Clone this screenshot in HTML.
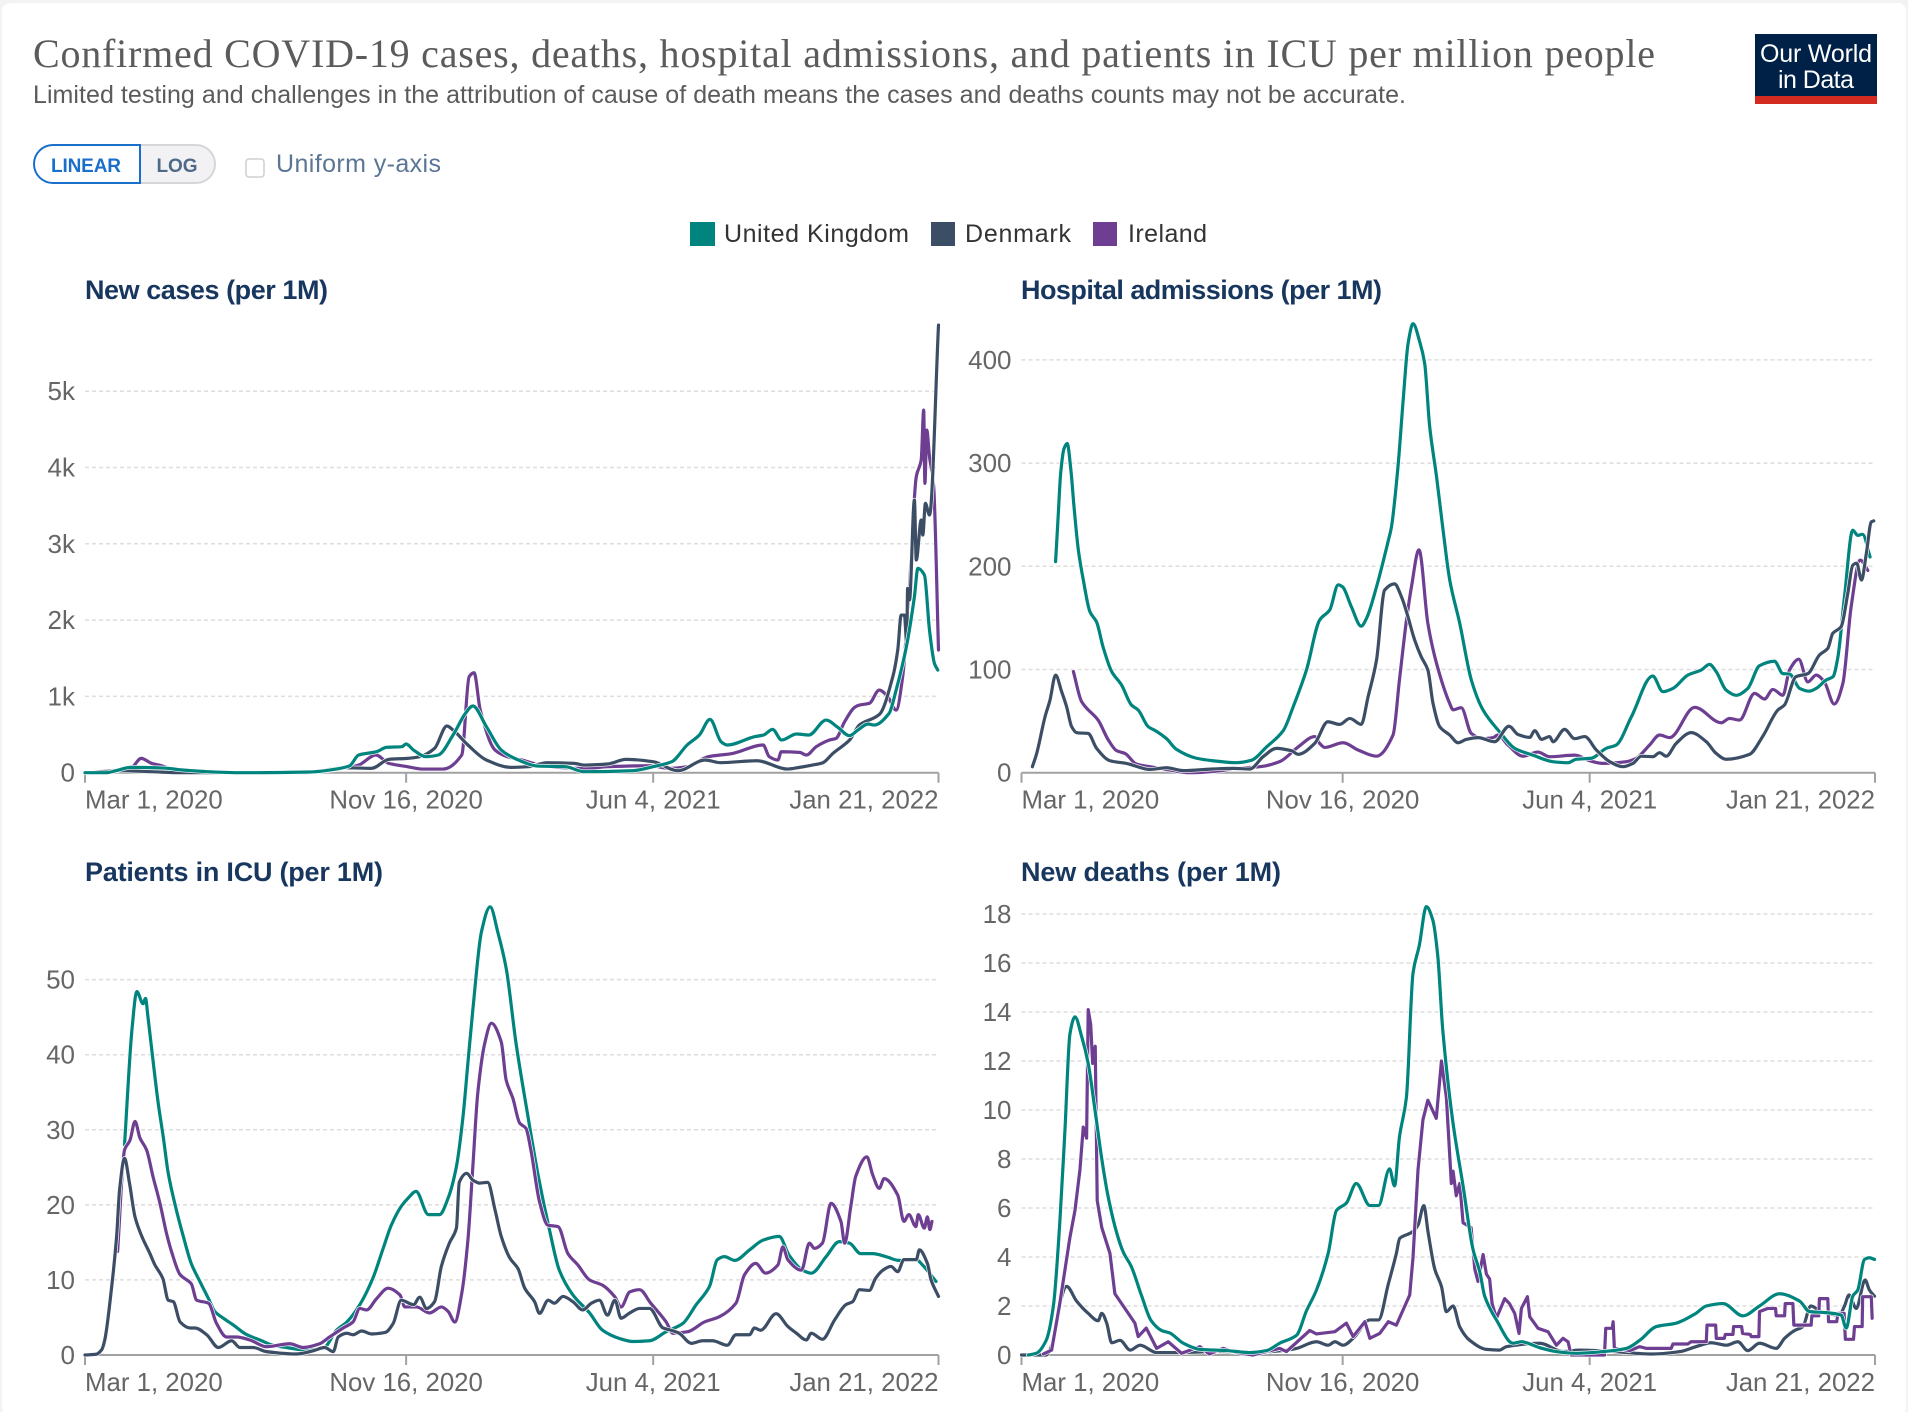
<!DOCTYPE html>
<html lang="en">
<head>
<meta charset="utf-8">
<title>Confirmed COVID-19 cases, deaths, hospital admissions, and patients in ICU per million people</title>
<style>
html,body{margin:0;padding:0;background:#f3f3f3;}
#page{display:block;width:1908px;height:1412px;}
text{font-family:"Liberation Sans",sans-serif;}
</style>
</head>
<body>
<svg id="page" xmlns="http://www.w3.org/2000/svg" width="1908" height="1412" viewBox="0 0 1908 1412">
  <rect x="2" y="3" width="1904" height="1412" rx="8" fill="#ffffff"/>
  <text x="33" y="67" font-size="40" textLength="1622" style="font-family:'Liberation Serif',serif" fill="#5b5b5b">Confirmed COVID-19 cases, deaths, hospital admissions, and patients in ICU per million people</text>
  <text x="33" y="103" font-size="25" textLength="1373" fill="#5b5b5b">Limited testing and challenges in the attribution of cause of death means the cases and deaths counts may not be accurate.</text>

  <g>
    <rect x="1755" y="34" width="122" height="62" fill="#002147"/>
    <rect x="1755" y="96" width="122" height="8" fill="#d42b21"/>
    <text x="1816" y="62" font-size="25" fill="#ffffff" text-anchor="middle" textLength="112">Our World</text>
    <text x="1816" y="88" font-size="25" fill="#ffffff" text-anchor="middle" textLength="76">in Data</text>
  </g>

  <g>
    <path d="M139 145 H196 a19 19 0 0 1 0 38 H139 Z" fill="#f2f2f4" stroke="#d6d6da" stroke-width="2"/>
    <path d="M140 145 H53 a19 19 0 0 0 0 38 H140 Z" fill="#ffffff" stroke="#1a6fcc" stroke-width="2"/>
    <text x="86" y="172" font-size="19" font-weight="bold" fill="#1a6fcc" text-anchor="middle" textLength="70">LINEAR</text>
    <text x="177" y="172" font-size="19" font-weight="bold" fill="#4f6a88" text-anchor="middle" textLength="41">LOG</text>
  </g>
  <rect x="246" y="159" width="18" height="18" rx="3" fill="#ffffff" stroke="#cfcfcf" stroke-width="1.5"/>
  <text x="276" y="172" font-size="25" fill="#5b7595" textLength="165">Uniform y-axis</text>

  <g>
    <rect x="690" y="222" width="25" height="24" fill="#00847e"/>
    <text x="724" y="242" font-size="25" fill="#333333" textLength="185">United Kingdom</text>
    <rect x="931" y="222" width="24" height="24" fill="#3c4e66"/>
    <text x="965" y="242" font-size="25" fill="#333333" textLength="106">Denmark</text>
    <rect x="1093" y="222" width="24" height="24" fill="#6d3e91"/>
    <text x="1128" y="242" font-size="25" fill="#333333" textLength="79">Ireland</text>
  </g>

  <g id="panel-cases">
    <text x="85" y="299" font-size="27" font-weight="bold" fill="#18375f" textLength="243">New cases (per 1M)</text>
  </g>
  <g id="panel-hosp">
    <text x="1021" y="299" font-size="27" font-weight="bold" fill="#18375f" textLength="361">Hospital admissions (per 1M)</text>
  </g>
  <g id="panel-icu">
    <text x="85" y="881" font-size="27" font-weight="bold" fill="#18375f" textLength="298">Patients in ICU (per 1M)</text>
  </g>
  <g id="panel-deaths">
    <text x="1021" y="881" font-size="27" font-weight="bold" fill="#18375f" textLength="260">New deaths (per 1M)</text>
  </g>
</svg>
<script>
// Shared x axis
const xTickDays = [0, 260, 460, 691];
const xTickLabels = ["Mar 1, 2020", "Nov 16, 2020", "Jun 4, 2021", "Jan 21, 2022"];

// New cases (per 1M)
const casesTicks = [0, 1000, 2000, 3000, 4000, 5000];
const casesTickLabels = ["0", "1k", "2k", "3k", "4k", "5k"];
const casesUkDays = [0,17,25,37,64,79,104,128,182,202,214,221.6,236,244,256.6,260,266,276,286,298,308,314,325,337,349.6,367,389,404,443,460,475,487.5,497.4,506,515,520,542,549.5,556.6,564,576,586,600,609.5,619,625.7,634,639,651,656.7,665,671.5,674.3,679.6,683.7,687.7,690.4];
const casesUkValues = [0,0,26,70,61,35,9,0,9,44,87,232,275,332,341,376,297,210,232,494,778,874,603,297,175,87,79,13,26,79,144,363,494,699,406,363,472,494,568,428,507,494,690,594,485,559,638,625,778,1083,1651,2307,2678,2590,1870,1433,1345];
const casesDkDays = [0,30,54,79,177,212,232,246,261,271,283,293,298,310,325,345,359,374,396,404,423,438,460,480,502,514.6,544,568.6,578.5,589,597.4,605.5,619,627,643.2,654,658,660.8,663.4,665.3,666,667.5,671.5,673,677,678.3,680.4,683.7,691];
const casesDkValues = [0,26,13,0,0,65,57,175,188,210,319,612,559,363,166,70,79,131,122,100,114,175,144,26,166,131,157,48,70,100,131,253,428,625,765,1258,1608,2066,2066,1695,2416,2263,3574,2787,3312,3115,3530,3377,5867];
const casesIeDays = [0,37,45.5,54,60,69,79,128,182,214,221.6,235.5,246,261,273,290,305,311,315,320,332,342,354,374,406,423,458,473,487.5,504.6,524.4,549,554,561,563.7,578.5,584,592,602.8,608,615,623,627,635,643,650,656.7,662,667.5,673,677,679,680,681.5,683.7,687,691];
const casesIeValues = [0,57,188,122,100,57,26,0,9,70,100,232,122,79,48,48,232,1258,1310,821,297,210,166,79,57,79,92,57,79,210,253,363,210,166,275,266,232,341,428,450,668,856,887,909,1083,996,821,1258,2438,3879,4098,4753,3792,4491,4142,3770,1608];

// Hospital admissions (per 1M)
const hospTicks = [0, 100, 200, 300, 400];
const hospTickLabels = ["0", "100", "200", "300", "400"];
const hospUkDays = [27.6,29.8,31.7,34.4,37,40,42.5,46,50,55.4,60.8,66,73,81,89,94.5,102.6,108,117.4,125.5,141.7,155,174,186,198.4,212,220,230.7,241.4,249.5,256.4,260,267,275,279.3,287.4,297,299.5,304.8,309,313,317,322.4,326.4,330.5,336,341,346.7,354.8,364.2,373.7,387,399.3,414,430,442.4,449,461.3,473.4,481.5,493.7,511,519.3,527.4,539.5,550.3,557,562.4,570.5,578.6,588,597.5,609.6,616.4,621.8,630,638,643.4,651.5,657,661,666.3,673,677,681,687];
const hospUkValues = [204.5,251,290,314,319,293,258,216,187,156,146,122,98,85,65.6,60.7,44.6,41,33,22.6,14,11.6,9.7,12,25,41,64,99.5,148,157.6,182,180,161,142,149.5,180,225,238,296.5,361,416,435,417.6,396.6,335,287,238,186.7,144.7,89.8,60.7,39.7,23.6,17,10.7,9.7,13,14,23.6,26.8,54,93.7,78.5,81.7,94.6,99.5,105,98,80,75,81.7,103.7,108,96,95.6,81.7,79,81.7,89.8,93,112.4,170.5,235,230,231,209];
const hospDkDays = [8.8,12.3,19,23,27.6,32.5,36.5,40.6,44.6,54,60.8,71.6,85,104,117.4,131,155,171.3,185,195.6,206.4,218.6,224,237.4,248,257.6,265.8,275,280.6,287.4,294,302,307.6,311.7,318.3,323.6,329,333.2,338.6,346.7,353.4,360.2,369.6,383,394.7,402,411.4,415.5,421,427.6,430.3,439.7,447.8,456,465.4,476.2,487,495,501.8,511.2,516.6,522,530,542.2,554.4,562.4,570.5,589.4,600,612.3,617.7,627,636.6,646,652.8,656.8,663.6,669,673,676.2,680,684,688,690];
const hospDkValues = [5.8,18.7,54,70,94.6,78.5,64,44.6,38.8,38,23.6,11.6,9,3.2,4.8,2,3.6,4.2,3.6,15.5,23.6,21.3,17.8,28.4,49.4,46.8,52.6,46.8,73.6,109,177,183,170.5,156,128.6,112.4,99.5,67,44.6,36.5,29,32.3,34,30,45,37,34.2,40.7,32.3,35,30,42,33,35,22,10.7,5.8,9,16,15.5,19.4,16,28.4,38.8,30,18.7,13,17.8,35,60.7,65.6,93,96,114,120.5,135,141.5,174,201,203,186.7,212.5,243,244];
const hospIeDays = [42,48.7,62,70.3,77,83.8,93,104,120,136,160.6,174,193,209,224,237.4,241.4,245.4,260.4,272.5,287.4,300.8,306,311.7,315.7,321.8,329,336,346.7,349.4,356,364.2,373.7,381.8,385.8,393.9,406,418,427.6,448,460,470.7,489.6,497.7,508.5,516.6,524.7,545,566.5,573.2,581.3,593.5,601.6,608.3,616.4,621.8,629.3,636.6,643.4,650,658,665,671.7,679,685.2];
const hospIeValues = [98,68.8,51,31.7,21.3,18.7,8.4,5.8,2.6,0,1.9,4.2,5.8,10.7,25,35,28.4,24.5,29,22,16,36.5,90,148,180,216,144.7,106,67,61,63,38,33,34,36.5,26.8,16,20,15.5,17,11.6,9,10.7,14,26.8,36.5,34,63.3,48.4,52.6,51,76.9,71.4,80.7,75,99.5,110,88,94.6,88,66.5,86.6,160.9,206,196];

// Patients in ICU (per 1M)
const icuTicks = [0, 10, 20, 30, 40, 50];
const icuTickLabels = ["0", "10", "20", "30", "40", "50"];
const icuUkDays = [32,38,42,47,49,51,55.3,59.3,63.4,67.4,74,79.6,86,93,100,105,112,120,131,141.6,152,163,179,193,203.6,212,222.5,233,241.4,248,256,261.6,268,278,287,294,300.7,306,310,314,321,328,334.4,341,349,358.7,367,376,384,395,408.5,419,432.7,443.5,457,470.5,484,494.8,505.5,512,517.7,526,538,549,562,570,581,588,600,610.7,619,628,637.7,648.5,659,673,678,689];
const icuUkValues = [28,43.3,48.4,46.8,47.5,45,38.9,33.5,29,24.2,19.3,15.8,12.2,9.8,7.5,5.8,4.9,4,2.7,2,1.3,1,0.67,0.9,3.3,4.4,6.7,10.2,14.2,17.3,19.8,20.9,21.8,18.7,18.7,20.9,25.1,31.7,38.9,46,56.4,59.7,56.2,51.5,41.5,31.7,23.8,16.7,11.3,8,5.6,3.3,2.2,1.8,1.9,3.1,4.2,6.7,9.1,12.7,13.1,12.6,14,15.3,15.8,13.3,11.3,10.9,13.1,15.1,14.9,13.5,13.5,13.1,12.6,12.7,12,9.8];
const icuDkDays = [0,9,13.5,16,21.6,25.6,28,32,36,40.5,46,52.6,56.6,63,67.4,71.5,77,85,89,98.5,108,118.7,125.4,136,147,171,185,194,201,205,212,217,224,232,243,249.5,256,266,271,276.5,283,288.5,295,300.7,303,309,314,319.6,326,332,337,344,350.6,356,364,368,375,380,387,395,403,410,416.5,423,429,434,441,449,457,468,474.5,481,491,500,508,520,527,538,542,547,559.5,569,576,584,588,597,607,616,621.5,627,635,640,646,652.5,658,663,673,675.5,682,685,691];
const icuDkValues = [0,0.1,0.7,2,9.1,15.8,22,26.2,22.9,18.4,15.8,13.5,12,10.2,7.3,7.1,4.4,3.6,3.6,2.7,1,1.9,1,1,0.45,0.13,0.58,1,0.45,2.4,2.9,2.7,3.2,2.8,3,4.2,7.3,6.7,7.7,6.2,7.1,11.8,14.9,16.9,23,24.2,23.3,22.9,23,19.3,15.8,12.9,11.5,8.9,7.1,5.55,7.3,6.9,7.8,7.1,6,6.9,7.3,5.3,7.3,4.9,5.6,6.2,6.2,3.6,3.3,2.9,1.55,1.9,1.9,1.3,2.7,2.7,3.6,3.3,5.5,3.8,2.9,2,2.9,2.1,4.7,6.7,7.1,8.7,8.6,10.2,11.3,11.8,11.1,12.7,12.7,14,12.2,10,7.8];
const icuIeDays = [26.4,32,36.4,40.5,44.5,49.9,55,60.7,66,70,77,86,90.4,100,106.5,114.6,122.7,133.5,147,165.8,176.6,190,198,209,217,222.5,228,236,245.4,255,259,268.3,279,288.6,294,299.4,305,310,314,318,323.6,329,337,341,346.4,351.9,357,361,368,374.7,383,391,399,408.5,419,428.7,434,441,449,458,470.5,476,488,501.5,513.6,527,534,543,551,561,565,569,580,586.5,590.5,597,604,612,615,620,624,633,637.7,643,647,658,663,667,672.7,674.6,679.5,682,684,685.7];
const icuIeValues = [13.8,27.3,28.6,31.1,28.9,27.3,23.8,20.2,16.2,13.8,10.7,9.5,7.3,6.9,4.2,2.4,2.4,2,1.1,1.5,1,1.5,2.4,3.6,4.4,6.2,6,7.5,8.9,8,6.4,6.4,5.6,6.4,5.8,4.4,8.2,15.3,25.1,34.9,41.5,44.2,41.7,36.6,34.2,30.9,30.2,27.3,20.4,17.3,17.1,13.5,12,10,9.3,7.8,6.4,8.4,8.7,6.9,4.4,2.9,3.1,4.4,5.1,6.9,10.7,12.2,10.9,12,14.4,12.7,11.3,14.9,14.2,14.9,20.2,17.8,14.9,19.8,23.8,26.4,24,22.2,23.5,21.3,17.8,18.7,17.1,18.7,16.9,18.4,16.7,17.8];

// New deaths (per 1M)
const deathsTicks = [0, 2, 4, 6, 8, 10, 12, 14, 16, 18];
const deathsTickLabels = ["0", "2", "4", "6", "8", "10", "12", "14", "16", "18"];
const deathsUkDays = [5.5,12,20,25.8,31,35.2,39.2,43.3,48.7,54,59.5,65,70,77,82.4,89,97,105,113.4,120,131,144.4,166,185,198.4,209,222.6,230.7,238.8,248.3,255,263,271,282,289,298,302,306,311.6,317,322,327.8,333,337,341,349,357.5,365.6,371,375,384.5,398,404.7,419.5,433,449,471,489.7,500.5,514,530,546,554.4,568,584,597.5,613.7,630,638,651.5,663.6,667.7,673,677,682.5,686.5,690.6];
const deathsUkValues = [0,0.07,0.6,2,5.4,9.2,13.1,13.8,13,11.9,10,8,6.5,5,4.2,3.6,2.45,1.4,1,0.9,0.48,0.23,0.18,0.1,0.18,0.48,0.8,1.8,2.65,4.15,5.9,6.2,7,6.1,6.1,7.6,6.9,8.9,10.5,15.6,16.7,18.3,17.75,16.3,13.3,9.6,6.9,4.3,3.4,2.4,1.43,0.48,0.54,0.3,0.14,0.07,0.14,0.27,0.6,1.16,1.3,1.7,2,2.1,1.6,2,2.5,2.2,1.77,1.73,1.63,1.1,2.4,2.65,3.9,3.97,3.9];
const deathsDkDays = [0,20,25.8,31,36.5,44.6,54,62,65,69,73,79.7,88,96,109.4,125.5,160.6,187.5,214.5,222.6,238.8,248.3,253.7,260.4,268.5,282,289,297,303.5,306.2,315.7,321,325.7,329.2,334.6,340,344,349.4,354.8,362.9,376.4,387,392.6,419.5,438.4,452,479,511,533,546,558.4,570.6,580,588,597.5,611,617.8,625.9,632.6,639,648.8,662,666.3,670,675.8,683,686.5,690.6];
const deathsDkValues = [0,0,0.6,2.1,2.8,2.2,1.7,1.4,1.7,1.3,0.5,0.6,0.2,0.4,0.1,0.1,0.14,0.1,0.2,0.27,0.54,0.4,0.54,0.4,0.68,1.43,1.43,2.9,4.15,4.76,5,5.3,6.1,5,3.5,2.8,1.77,2,1.15,0.6,0.23,0.2,0.34,0.48,0.14,0.2,0.14,0.04,0.14,0.34,0.5,0.4,0.54,0.18,0.48,0.27,0.68,1,1.16,2,1.73,1.63,2,2.45,1.9,3.06,2.65,2.4];
const deathsIeDays = [17.7,24.4,31,39.2,43.3,47.3,50,52.7,54,56,57.6,59.7,61.3,65,71.6,75.6,82.4,91.8,94.5,101,109.4,118.8,129.6,144.4,152,163.3,174,187.5,209,214.5,233.4,238.8,253.7,263,268.5,278,282,290,297,303.5,314.3,317,321,325,329,335.8,340,344,348,349.4,352,354.8,357.5,364,367,369.6,373.7,376.4,379,381,384.5,391.2,395,399.3,402.8,404.7,409.6,411.5,418.2,426.3,433,438.4,442.5,445,472,473,478.3,479,480,492.4,500.5,505.8,526,527.4,539.5,542,554.4,555,562,562.5,569,569.8,576,576.5,583,583.8,590,590.8,597,597.5,604,610.5,611,617.8,618.3,624.5,625.3,639.3,639.9,645.5,646,652.8,653.4,660,661,666,667,673.6,674.4,680.6,681,688,688.7];
const deathsIeValues = [0.04,0.2,2.1,4.8,5.9,7.55,9.3,8.85,14.1,13.5,11.9,12.6,6.3,5.2,4.15,2.5,2,1.3,0.75,1.1,0.27,0.54,0.07,0.34,0.04,0.27,0.1,0,0.27,0.14,1,0.86,0.95,1.3,0.75,1.36,0.68,0.88,1.36,1.22,2.45,4,7.55,9.6,10.4,9.66,12,10.5,7,7.5,6.5,7,5.4,5.2,3.5,3,4.1,3.3,3.1,2.1,1.5,2.3,2.1,1.7,0.88,1.9,2.38,1.56,1.09,0.95,0.4,0.68,0.54,0,0,1.09,1.09,1.36,0.27,0.18,0.34,0.27,0.27,0.45,0.45,0.54,0.54,1.22,1.22,0.68,0.68,0.84,0.84,1.16,1.16,0.88,0.84,0.75,0.75,1.77,1.9,1.9,1.6,1.6,2.1,2.1,1.22,1.22,1.6,1.6,2.3,2.3,1.36,1.36,1.7,1.7,0.64,0.64,1.16,1.16,2.38,2.38,1.5];

const SVG_NS = "http://www.w3.org/2000/svg";
const COLORS = { uk: "#00847e", dk: "#3c4e66", ie: "#6d3e91" };
const LAST_DAY = 691;

function make(tag, attrs, parent) {
  const el = document.createElementNS(SVG_NS, tag);
  for (const k in attrs) el.setAttribute(k, attrs[k]);
  parent.appendChild(el);
  return el;
}

// Monotone cubic through the given pixel points: rounds corners without overshooting peaks.
function monotonePath(xs, ys) {
  const n = xs.length;
  const slopes = [];
  for (let i = 0; i < n - 1; i++) slopes.push((ys[i + 1] - ys[i]) / Math.max(xs[i + 1] - xs[i], 1e-6));
  const tangents = [slopes[0]];
  for (let i = 1; i < n - 1; i++) {
    tangents.push(slopes[i - 1] * slopes[i] <= 0 ? 0 : 2 * slopes[i - 1] * slopes[i] / (slopes[i - 1] + slopes[i]));
  }
  tangents.push(slopes[n - 2]);
  let d = "M" + xs[0].toFixed(2) + " " + ys[0].toFixed(2);
  for (let i = 0; i < n - 1; i++) {
    const h = (xs[i + 1] - xs[i]) / 3;
    d += "C" + (xs[i] + h).toFixed(2) + " " + (ys[i] + tangents[i] * h).toFixed(2) + " "
       + (xs[i + 1] - h).toFixed(2) + " " + (ys[i + 1] - tangents[i + 1] * h).toFixed(2) + " "
       + xs[i + 1].toFixed(2) + " " + ys[i + 1].toFixed(2);
  }
  return d;
}

function linearPath(xs, ys) {
  return xs.map((x, i) => (i ? "L" : "M") + x.toFixed(2) + " " + ys[i].toFixed(2)).join("");
}

function drawPanel(opts) {
  const g = document.getElementById(opts.id);
  const xScale = d => opts.x0 + (d / LAST_DAY) * (opts.x1 - opts.x0);
  const yScale = v => opts.base - v * opts.pxPerUnit;

  opts.ticks.forEach((t, i) => {
    if (t !== 0) {
      const grid = make("line", { x1: opts.x0, x2: opts.x1, y1: yScale(t), y2: yScale(t), stroke: "#dddddd", "stroke-width": 1.5, "stroke-dasharray": "4 3" }, g);
      
      
    }
    const label = make("text", { x: opts.x0 - 10, y: yScale(t) + 9, "font-size": 26, fill: "#666666", "text-anchor": "end" }, g);
    
    
    label.textContent = opts.tickLabels[i];
  });

  const axis = make("line", { x1: opts.x0, x2: opts.x1, y1: opts.base, y2: opts.base, stroke: "#a1a1a1", "stroke-width": 2 }, g);
  
  

  xTickDays.forEach((d, i) => {
    const px = xScale(d);
    const tick = make("line", { x1: px, x2: px, y1: opts.base, y2: opts.base + 10, stroke: "#a1a1a1", "stroke-width": 2 }, g);
    
    
    const anchor = i === 0 ? "start" : (i === xTickDays.length - 1 ? "end" : "middle");
    const label = make("text", { x: px, y: opts.base + 36, "font-size": 25.8, fill: "#666666", "text-anchor": anchor }, g);
    
    
    label.textContent = xTickLabels[i];
  });

  opts.series.forEach(s => {
    const n = Math.min(s.days.length, s.values.length);
    const xs = s.days.slice(0, n).map(xScale);
    const ys = s.values.slice(0, n).map(yScale);
    const d = s.stepped ? linearPath(xs, ys) : monotonePath(xs, ys);
    const halo = make("path", { d: d, fill: "none", stroke: "#ffffff", "stroke-width": 4.5, "stroke-linejoin": "round", "stroke-linecap": "round" }, g);
    
    
    const line = make("path", { d: d, fill: "none", stroke: COLORS[s.key], "stroke-width": 3.2, "stroke-linejoin": "round", "stroke-linecap": "round" }, g);
    
    
  });
}

drawPanel({ id: "panel-cases", x0: 85, x1: 938.5, base: 772.7, pxPerUnit: 0.0763, ticks: casesTicks, tickLabels: casesTickLabels, series: [
  { key: "ie", name: "ireland", days: casesIeDays, values: casesIeValues },
  { key: "dk", name: "denmark", days: casesDkDays, values: casesDkValues },
  { key: "uk", name: "united-kingdom", days: casesUkDays, values: casesUkValues }
]});
drawPanel({ id: "panel-hosp", x0: 1021.5, x1: 1875, base: 772.7, pxPerUnit: 1.032, ticks: hospTicks, tickLabels: hospTickLabels, series: [
  { key: "ie", name: "ireland", days: hospIeDays, values: hospIeValues },
  { key: "uk", name: "united-kingdom", days: hospUkDays, values: hospUkValues },
  { key: "dk", name: "denmark", days: hospDkDays, values: hospDkValues }
]});
drawPanel({ id: "panel-icu", x0: 85, x1: 938.5, base: 1355, pxPerUnit: 7.507, ticks: icuTicks, tickLabels: icuTickLabels, series: [
  { key: "uk", name: "united-kingdom", days: icuUkDays, values: icuUkValues },
  { key: "ie", name: "ireland", days: icuIeDays, values: icuIeValues },
  { key: "dk", name: "denmark", days: icuDkDays, values: icuDkValues }
]});
drawPanel({ id: "panel-deaths", x0: 1021.5, x1: 1875, base: 1355, pxPerUnit: 24.5, ticks: deathsTicks, tickLabels: deathsTickLabels, series: [
  { key: "dk", name: "denmark", days: deathsDkDays, values: deathsDkValues },
  { key: "ie", name: "ireland", stepped: true, days: deathsIeDays, values: deathsIeValues },
  { key: "uk", name: "united-kingdom", days: deathsUkDays, values: deathsUkValues }
]});
</script>
</body>
</html>
